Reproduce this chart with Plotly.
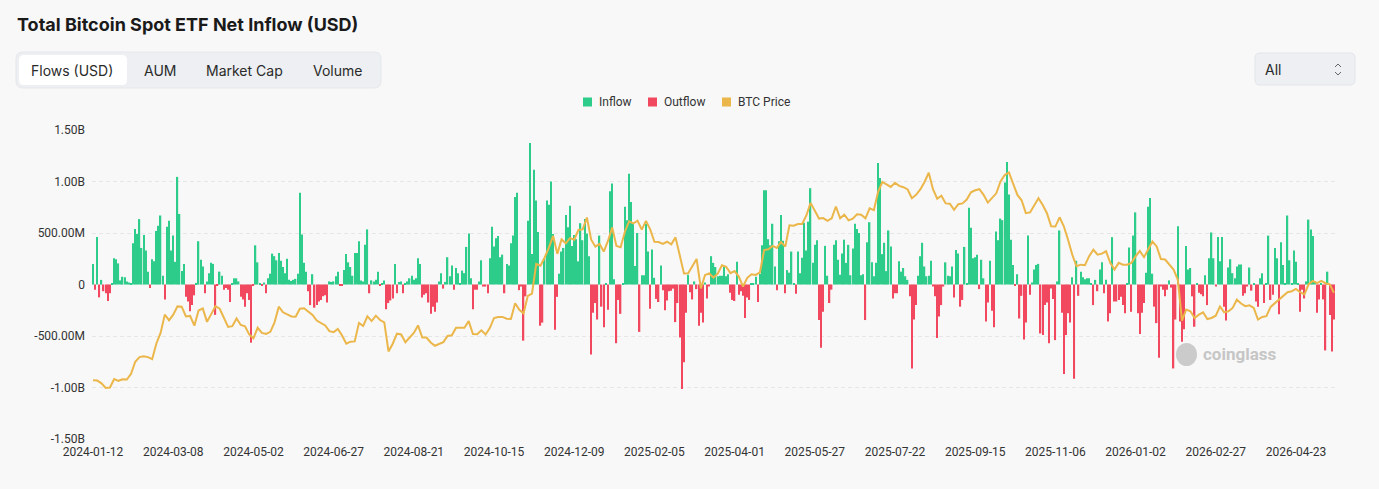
import plotly.graph_objects as go
import pandas as pd

# ---------------------------------------------------------------- data
START_DATE = "2024-01-12"
END_DATE = "2026-05-19"
NYSE_HOLIDAYS = [
    "2024-01-15", "2024-02-19", "2024-03-29", "2024-05-27", "2024-06-19",
    "2024-07-04", "2024-09-02", "2024-11-28", "2024-12-25",
    "2025-01-01", "2025-01-09", "2025-01-20", "2025-02-17", "2025-04-18",
    "2025-05-26", "2025-06-19", "2025-07-04", "2025-09-01", "2025-11-27",
    "2025-12-25",
    "2026-01-01", "2026-01-19", "2026-02-16", "2026-04-03",
]
TICK_DATES = [
    "2024-01-12", "2024-03-08", "2024-05-02", "2024-06-27", "2024-08-21",
    "2024-10-15", "2024-12-09", "2025-02-05", "2025-04-01", "2025-05-27",
    "2025-07-22", "2025-09-15", "2025-11-06", "2026-01-02", "2026-02-27",
    "2026-04-23",
]
Y_TICKS = [1.5e9, 1.0e9, 5e8, 0, -5e8, -1.0e9, -1.5e9]
Y_TICK_TEXT = ["1.50B", "1.00B", "500.00M", "0", "-500.00M", "-1.00B", "-1.50B"]

# daily net flow in million USD (two rows = 38 trading days, i.e. one tick gap)
NET_FLOW_M = [
    200, -50, 460, -125, 45, -65, -85, -160, -85, 10, 255, 245, 205, 40, 75, 70, 30, 20, 15,
    400, 540, 490, 635, 355, 480, 330, 125, -35, 245, 225, 520, 570, 670, 85, -145, 560, 620, 330,
    475, 220, 1045, 685, 130, 200, -120, -165, -260, -200, -105, 15, 420, 240, 175, -85, 30, 110, 210,
    200, -295, -10, 125, 85, -50, -35, -50, -170, 5, 60, 60, 30, -120, -145, -215, -85, -150, -565,
    -10, 380, 215, 5, -15, 20, -85, 60, 105, 300, 275, 235, 305, 230, 170, 110, 250, 45, 35,
    45, 55, 105, 890, 485, 210, 125, -65, -200, 100, -225, -200, -165, -150, -115, -105, -175, 30, 25,
    30, 80, 125, -13, -5, 140, 295, 215, 170, 85, 305, 305, 420, 40, 30, 385, 535, -85, 40,
    30, 45, 125, -8, 5, 40, -240, -180, -155, -135, 200, -85, 25, 30, -85, 15, 30, 60, 85,
    45, 60, 255, 200, -125, -100, -85, -175, -285, -215, -265, -175, 30, 110, -40, 25, 265, 80, 185,
    -50, 160, 110, 5, 135, 110, 365, 495, 60, -240, -50, -50, 30, 235, -20, -20, -85, 255, 560,
    370, 450, 470, 265, 290, -85, 200, 185, 400, 475, 850, 890, -55, -20, -545, -115, 620, 1375, 295,
    1115, 815, 510, -400, -370, 255, 815, 775, 1000, 490, -440, -120, 105, 320, 355, 675, 555, 765, 375,
    480, 440, 225, 595, 430, 635, 495, 275, -680, -275, -180, -340, 475, -215, -415, 5, -245, 905, 980,
    50, -570, -150, -285, 10, 755, 625, 1075, 800, 600, 180, 500, -460, 90, 90, 590, 320, -235, 340,
    65, -140, -170, 185, -55, -250, -155, -65, -60, -40, -365, -180, -515, -1015, -755, -275, 95, -75, -145,
    30, -45, -400, -275, -370, 20, -135, -20, 275, 210, 170, 80, 85, 85, 170, 80, 100, -80, -150,
    -160, 220, -100, -65, -110, -325, -125, -150, 5, 5, 75, -170, 105, 380, 915, 915, 440, 380, 590,
    175, -55, 420, 675, 425, -85, 140, 115, 320, 5, -90, 320, 110, 260, 600, 330, 610, 935, 210,
    385, 430, -345, -615, -265, 375, 85, -180, -50, 385, 430, 240, 95, 300, 435, 210, 385, 90, 350,
    590, 540, 500, 90, 100, -345, 410, 605, 215, 80, 210, 1180, 1035, 295, 405, 130, 525, 370, -135,
    -85, -85, 225, 125, 160, 80, 45, -115, -815, -340, -200, 85, 275, 405, 175, 80, 85, 230, -20,
    -115, -520, -310, -200, -20, 215, 85, 80, 175, -125, 335, 300, -215, -150, 365, 15, 745, 550, 255,
    265, 290, -45, 240, 60, -360, -175, 230, -255, -415, 515, 430, 640, 625, 990, 1190, 875, 435, 190,
    -5, 100, -330, -110, -535, -370, 475, -100, 20, 145, 190, 200, -475, -490, -200, -175, -570, -40, -140,
    -540, 30, 525, -275, -870, -490, -280, -370, 70, -915, 230, -110, 125, 70, 50, 60, 60, 10, -200,
    45, -65, 145, 215, -85, 45, -360, -280, 460, -165, -165, -150, -120, -200, -280, 10, 360, -265, 475,
    700, -280, -480, -275, -180, 115, 755, 840, 105, -215, -375, -710, -20, -50, -115, -50, 40, -30, -815,
    -340, 565, -360, -555, -435, 375, 145, 160, -115, -410, 15, -80, -95, -115, 90, -200, 255, 505, 255,
    -20, 460, 225, 460, -215, -350, 165, 245, 110, 60, 175, 195, 195, -110, -85, -20, 165, -60, 10,
    -165, -215, 60, 110, -180, 10, 475, -150, -100, 355, 255, -290, 410, 190, 10, 670, 235, 10, 330,
    220, 10, -265, -50, -135, 30, 630, 535, 470, 30, -275, -145, 10, -145, -640, 125, -295, -650, -340,
]

# BTC price in thousand USD, sampled every second trading day
BTC_PRICE_K = [
    42.8, 42.7, 41.6, 39.8, 40.0, 43.3, 42.6, 43.2, 43.1, 45.3, 50.0, 51.8, 52.1, 51.8, 51.0, 57.1, 61.2, 68.3, 66.1,
    68.3, 71.5, 71.4, 67.6, 67.8, 64.0, 69.9, 70.7, 65.5, 68.5, 71.6, 70.6, 67.1, 63.5, 63.8, 66.8, 64.3, 63.8, 60.6,
    59.1, 63.2, 61.2, 60.8, 61.6, 65.3, 71.4, 69.2, 68.5, 67.6, 67.5, 70.6, 70.8, 69.6, 68.2, 66.0, 65.2, 64.1, 61.9,
    61.5, 62.7, 60.2, 57.0, 57.8, 57.9, 65.1, 63.9, 67.6, 65.8, 67.9, 66.2, 65.3, 54.0, 57.0, 60.9, 60.6, 57.6, 59.4,
    61.2, 64.1, 59.4, 59.4, 57.5, 56.2, 57.0, 57.6, 60.0, 60.3, 63.2, 63.3, 63.2, 65.8, 60.8, 60.7, 62.2, 60.6, 63.1,
    67.0, 67.4, 67.4, 66.7, 66.6, 72.7, 70.2, 68.8, 75.6, 76.5, 88.0, 87.3, 90.5, 94.3, 98.9, 91.9, 97.5, 96.0, 98.0,
    97.4, 101.2, 101.4, 106.0, 97.5, 94.7, 95.8, 92.8, 96.9, 102.1, 95.0, 94.5, 100.5, 104.5, 103.7, 104.8, 101.3, 104.7, 101.4,
    96.6, 96.5, 95.8, 96.6, 95.6, 98.3, 91.4, 84.3, 84.4, 87.2, 89.9, 78.5, 83.7, 84.3, 82.7, 84.2, 87.5, 86.9, 84.4,
    85.2, 83.1, 79.2, 82.6, 84.0, 83.7, 84.7, 93.4, 93.7, 95.0, 94.2, 96.5, 94.7, 103.0, 102.8, 103.5, 103.5, 106.8, 111.7,
    108.9, 105.6, 105.8, 104.7, 105.7, 110.3, 105.7, 107.1, 104.9, 105.6, 107.3, 107.1, 105.7, 109.6, 108.9, 116.0, 119.8, 119.0, 117.9,
    119.5, 118.3, 117.8, 116.9, 113.5, 114.8, 116.9, 119.8, 123.4, 117.0, 113.3, 114.5, 111.5, 111.4, 109.0, 111.2, 111.5, 113.0, 115.8,
    116.6, 117.0, 114.8, 111.8, 113.5, 115.4, 120.0, 122.5, 123.5, 119.3, 114.8, 112.7, 107.7, 108.0, 110.9, 113.5, 110.9, 107.7, 102.6,
    102.5, 106.1, 102.6, 97.4, 91.6, 87.1, 87.7, 87.5, 91.0, 93.5, 91.6, 92.0, 92.9, 88.4, 85.8, 88.4, 87.7, 87.7, 88.4,
    90.9, 93.0, 90.6, 93.5, 96.7, 94.8, 89.9, 89.7, 87.7, 85.8, 81.9, 66.0, 70.3, 69.6, 67.0, 68.3, 69.2, 66.6, 67.0,
    67.9, 71.5, 69.2, 69.6, 70.9, 74.1, 72.6, 71.6, 71.9, 70.9, 66.4, 67.4, 67.7, 71.3, 72.8, 74.1, 75.5, 77.0, 77.4,
    78.3, 77.0, 76.2, 80.1, 81.4, 80.5, 81.4, 80.5, 80.1, 76.8,
]

GREEN = "#2ECC8A"
RED = "#F2485F"
GOLD = "#EBB64A"
BG = "#F8F8F8"

# ------------------------------------------------------------- layout px
W, H = 1379, 489
PLOT_L, PLOT_R, PLOT_T, PLOT_B = 92, 1335, 130, 439


def px(x):
    return (x - PLOT_L) / (PLOT_R - PLOT_L)


def py(y):
    return (PLOT_B - y) / (PLOT_B - PLOT_T)


def rounded_rect(x0, y0, x1, y1, r):
    """SVG path (paper coords) for a rounded rectangle given in pixels"""
    p = lambda x, y: f"{px(x):.5f},{py(y):.5f}"
    return (f"M{p(x0 + r, y0)} L{p(x1 - r, y0)} Q{p(x1, y0)} {p(x1, y0 + r)} "
            f"L{p(x1, y1 - r)} Q{p(x1, y1)} {p(x1 - r, y1)} "
            f"L{p(x0 + r, y1)} Q{p(x0, y1)} {p(x0, y1 - r)} "
            f"L{p(x0, y0 + r)} Q{p(x0, y0)} {p(x0 + r, y0)} Z")


dates = pd.bdate_range(START_DATE, END_DATE, freq="C",
                       holidays=NYSE_HOLIDAYS).strftime("%Y-%m-%d").tolist()
assert len(dates) == len(NET_FLOW_M), (len(dates), len(NET_FLOW_M))

inflow = [v * 1e6 if v > 0 else None for v in NET_FLOW_M]
outflow = [v * 1e6 if v < 0 else None for v in NET_FLOW_M]
price_dates = dates[::2]
price = [p * 1000 for p in BTC_PRICE_K]

fig = go.Figure()
fig.add_trace(go.Bar(x=dates, y=inflow, name="Inflow", marker_color=GREEN,
                     marker_line_width=0, showlegend=False))
fig.add_trace(go.Bar(x=dates, y=outflow, name="Outflow", marker_color=RED,
                     marker_line_width=0, showlegend=False))
fig.add_trace(go.Scatter(x=price_dates, y=price, name="BTC Price", yaxis="y2",
                         mode="lines", line=dict(color=GOLD, width=2),
                         showlegend=False))

tick_font = dict(family="Roboto", size=12, color="#333333")
fig.update_layout(
    width=W, height=H, autosize=False,
    margin=dict(l=PLOT_L, r=W - PLOT_R, t=PLOT_T, b=H - PLOT_B, pad=0),
    paper_bgcolor=BG, plot_bgcolor=BG,
    barmode="overlay", bargap=0.35,
    xaxis=dict(type="category", categoryorder="array", categoryarray=dates,
               tickmode="array", tickvals=TICK_DATES, ticktext=TICK_DATES,
               tickangle=0, showgrid=False, showline=False, zeroline=False,
               ticks="", ticklabelstandoff=4, tickfont=tick_font,
               range=[-0.5, len(dates) - 0.5]),
    yaxis=dict(range=[-1.5e9, 1.5e9], tickmode="array", tickvals=Y_TICKS,
               ticktext=Y_TICK_TEXT, gridcolor="#E6E6E6", gridwidth=1,
               griddash="4px,3px", zeroline=False, showline=False, ticks="",
               ticklabelstandoff=6, tickfont=tick_font),
    yaxis2=dict(overlaying="y", range=[20000, 140000], visible=False),
    font=dict(family="Roboto", color="#333333"),
)

shapes = []
annotations = []

# title
annotations.append(dict(text="<b>Total Bitcoin Spot ETF Net Inflow (USD)</b>",
                        x=px(15), y=py(25), xanchor="left", yanchor="middle",
                        font=dict(family="Inter", size=18, color="#1A1A1A")))

# tab bar
shapes.append(dict(type="path", path=rounded_rect(16, 52, 381, 88, 7),
                   fillcolor="#EDEFF2", line=dict(color="#E4E7EB", width=1)))
shapes.append(dict(type="path", path=rounded_rect(19, 55, 127, 85, 5),
                   fillcolor="#FFFFFF", line=dict(width=0)))
for label, cx in [("Flows (USD)", 72), ("AUM", 160), ("Market Cap", 244), ("Volume", 337)]:
    annotations.append(dict(text=label, x=px(cx), y=py(70), xanchor="center",
                            yanchor="middle",
                            font=dict(family="Inter", size=14, color="#2A2A2A")))

# range selector
shapes.append(dict(type="path", path=rounded_rect(1255, 53, 1355, 85, 5),
                   fillcolor="#EDEFF2", line=dict(color="#E2E5E9", width=1)))
annotations.append(dict(text="All", x=px(1263), y=py(69), xanchor="left",
                        yanchor="middle",
                        font=dict(family="Inter", size=14, color="#2A2A2A")))
shapes.append(dict(type="path",
                   path=f"M{px(1335):.5f},{py(67):.5f} L{px(1338):.5f},{py(64):.5f} L{px(1341):.5f},{py(67):.5f}",
                   line=dict(color="#666666", width=1)))
shapes.append(dict(type="path",
                   path=f"M{px(1335):.5f},{py(72):.5f} L{px(1338):.5f},{py(75):.5f} L{px(1341):.5f},{py(72):.5f}",
                   line=dict(color="#666666", width=1)))

# legend
for label, color, sx in [("Inflow", GREEN, 583), ("Outflow", RED, 648), ("BTC Price", GOLD, 722)]:
    shapes.append(dict(type="rect", x0=px(sx), x1=px(sx + 9), y0=py(97.5), y1=py(106.5),
                       fillcolor=color, line=dict(width=0)))
    annotations.append(dict(text=label, x=px(sx + 14), y=py(102), xanchor="left",
                            yanchor="middle",
                            font=dict(family="Roboto", size=12, color="#333333")))

# watermark
shapes.append(dict(type="circle", x0=px(1176), x1=px(1197), y0=py(343), y1=py(366),
                   fillcolor="#CBCBCB", line=dict(width=0), layer="below"))
annotations.append(dict(text="<b>coinglass</b>", x=px(1201), y=py(354), xanchor="left",
                        yanchor="middle",
                        font=dict(family="Roboto", size=17, color="#C6C6C6")))

for a in annotations:
    a.update(xref="paper", yref="paper", showarrow=False)
for s in shapes:
    s.update(xref="paper", yref="paper")
fig.update_layout(shapes=shapes, annotations=annotations)

# drop the default page margin so the figure fills the window
fig.write_html("out.html", config={"displayModeBar": False}, post_script=(
    "document.body.style.margin='0';"
    f"document.body.style.background='{BG}';"
))
